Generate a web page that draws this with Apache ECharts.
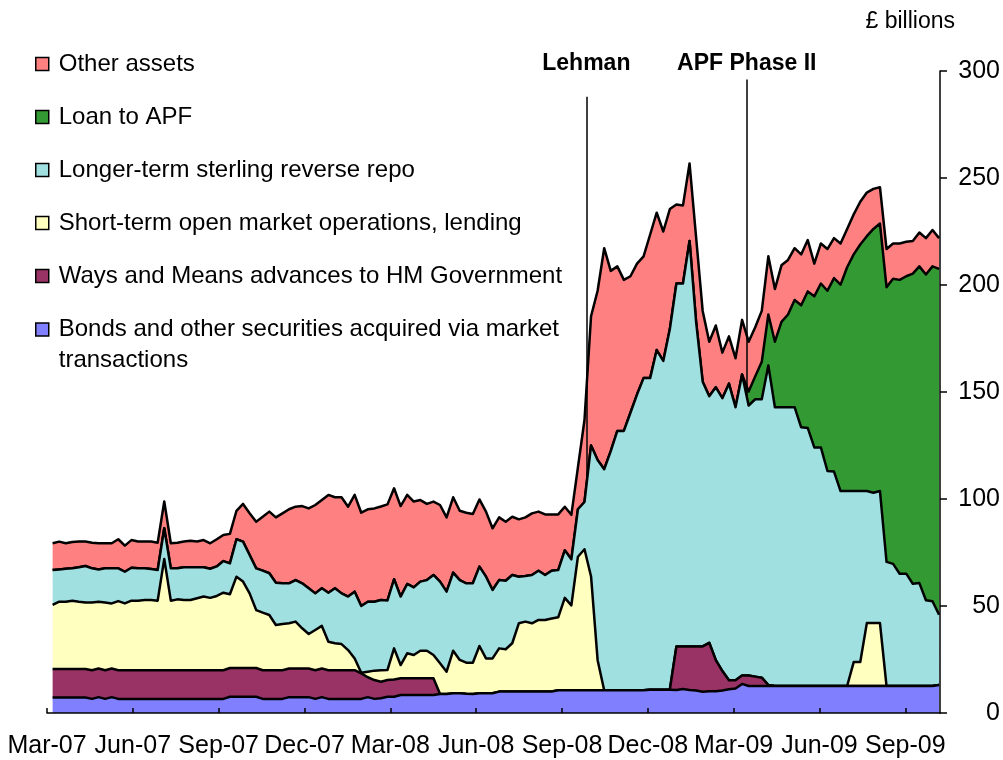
<!DOCTYPE html>
<html>
<head>
<meta charset="utf-8">
<script src="https://cdn.jsdelivr.net/npm/echarts@6/dist/echarts.min.js"></script>
<style>
  html, body { margin: 0; padding: 0; background: #fff; }
  #chart { width: 1003px; height: 760px; }
</style>
</head>
<body>
<div id="chart"></div>
<script>
// weekly Bank Return dates start Wed 7 Mar 2007
const axisStart = '2007-03-01';
const axisEnd = '2009-10-08';
const firstWeek = '2007-03-07';

// quarter ticks: Mar-07 .. Sep-09 span 915 days = 10 x 91.5
const quarterDays = 91.5;
const tickLabels = ['Mar-07', 'Jun-07', 'Sep-07', 'Dec-07', 'Mar-08',
  'Jun-08', 'Sep-08', 'Dec-08', 'Mar-09', 'Jun-09', 'Sep-09'];

const yTicks = [0, 50, 100, 150, 200, 250, 300];

const eventNames = ['Lehman', 'APF Phase II'];
const eventDates = ['2008-09-26', '2009-03-16'];
const eventTops = [288, 296];

// £ billions, one value per week
const bonds = [
  7.2, 7.2, 7.2, 7.2, 7.2, 7.2, 6.6, 7.4, 6.6, 7.4,
  6.6, 6.6, 6.6, 6.6, 6.6, 6.6, 6.6, 6.6, 6.6, 6.6,
  6.6, 6.6, 6.6, 6.6, 6.6, 6.6, 6.6, 7.6, 7.6, 7.6,
  7.6, 7.6, 6.6, 6.6, 6.6, 6.6, 7.4, 7.4, 7.4, 7.4,
  6.6, 7.4, 6.6, 6.6, 6.6, 6.6, 6.6, 6.6, 7.4, 6.6,
  6.9, 7.6, 7.6, 8.4, 8.4, 8.4, 8.4, 8.4, 8.4, 8.9,
  8.9, 9.2, 9.2, 9.0, 8.9, 9.2, 9.2, 9.2, 10.0, 10.0,
  10.0, 10.0, 10.0, 10.0, 10.0, 10.0, 10.0, 10.6, 10.6, 10.6,
  10.6, 10.6, 10.6, 10.6, 10.6, 10.6, 10.6, 10.6, 10.6, 10.6,
  10.6, 10.9, 10.9, 10.9, 10.9, 10.7, 11.2, 10.8, 10.5, 9.9,
  10.2, 10.2, 10.5, 11.1, 11.4, 13.6, 12.6, 12.6, 12.6, 12.6,
  12.6, 12.6, 12.6, 12.6, 12.6, 12.6, 12.6, 12.6, 12.6, 12.6,
  12.6, 12.6, 12.6, 12.6, 12.6, 12.6, 12.6, 12.6, 12.6, 12.6,
  12.6, 12.6, 12.6, 12.6, 12.6, 13.1
];

const waysMeans = [
  13.4, 13.4, 13.4, 13.4, 13.4, 13.4, 13.4, 13.4, 13.4, 13.4,
  13.4, 13.4, 13.4, 13.4, 13.4, 13.4, 13.4, 13.4, 13.4, 13.4,
  13.4, 13.4, 13.4, 13.4, 13.4, 13.4, 13.4, 13.4, 13.4, 13.4,
  13.4, 13.4, 13.4, 13.4, 13.4, 13.4, 13.4, 13.4, 13.4, 13.4,
  13.4, 13.4, 13.4, 13.4, 13.4, 13.4, 13.4, 11.9, 9.3, 8.8,
  7.7, 7.8, 8.1, 7.8, 7.8, 7.8, 7.8, 7.8, 7.8, 0,
  0, 0, 0, 0, 0, 0, 0, 0, 0, 0,
  0, 0, 0, 0, 0, 0, 0, 0, 0, 0,
  0, 0, 0, 0, 0, 0, 0, 0, 0, 0,
  0, 0, 0, 0, 0, 20.4, 19.9, 20.3, 20.6, 21.2,
  22.6, 14.5, 9.1, 4.2, 3.9, 3.9, 4.9, 4.4, 3.9, 0.5,
  0, 0, 0, 0, 0, 0, 0, 0, 0, 0,
  0, 0, 0, 0, 0, 0, 0, 0, 0, 0,
  0, 0, 0, 0, 0, 0
];

const shortTermOmo = [
  29.9, 31.4, 31.4, 31.9, 31.4, 31.0, 31.6, 31.2, 31.6, 30.4,
  32.3, 31.2, 32.5, 32.5, 32.8, 32.8, 32.5, 52.0, 32.5, 33.1,
  32.8, 32.8, 33.6, 34.4, 33.8, 34.7, 36.2, 34.5, 42.7, 40.4,
  34.9, 27.1, 26.9, 25.8, 21.1, 21.6, 21.1, 21.9, 18.8, 16.1,
  18.8, 19.9, 13.3, 12.6, 12.2, 9.4, 5.5, 0.3, 2.6, 4.4,
  5.4, 4.7, 14.5, 6.2, 11.7, 10.9, 12.9, 12.9, 10.9, 14.3,
  10.4, 19.9, 15.6, 14.5, 14.6, 22.1, 16.3, 16.3, 20.2, 19.8,
  22.6, 31.9, 32.7, 31.9, 33.5, 33.5, 34.2, 34.1, 43.2, 39.7,
  62.4, 65.9, 53.2, 14.1, 0, 0, 0, 0, 0, 0,
  0, 0, 0, 0, 0, 0, 0, 0, 0, 0,
  0, 0, 0, 0, 0, 0, 0, 0, 0, 0,
  0, 0, 0, 0, 0, 0, 0, 0, 0, 0,
  0, 0, 11.2, 11.2, 29.4, 29.4, 29.4, 0, 0, 0,
  0, 0, 0, 0, 0, 0
];

const longerTermRepo = [
  16.3, 15.1, 15.4, 15.1, 16.1, 17.1, 16.0, 15.1, 16.0, 16.4,
  15.3, 14.8, 15.4, 15.1, 14.8, 14.5, 14.3, 14.3, 15.1, 14.5,
  15.3, 15.3, 14.5, 13.7, 13.6, 13.8, 14.8, 14.4, 17.5, 18.7,
  17.9, 19.5, 19.6, 19.5, 19.8, 19.0, 18.7, 19.4, 21.0, 21.4,
  17.1, 17.6, 22.9, 25.7, 23.7, 25.0, 31.2, 31.2, 32.7, 32.2,
  32.8, 32.5, 32.3, 32.0, 32.4, 31.6, 32.3, 33.0, 37.4, 38.2,
  37.4, 36.5, 37.3, 37.1, 37.1, 37.1, 38.2, 32.0, 31.9, 32.0,
  31.9, 21.8, 21.3, 22.6, 23.0, 21.0, 22.3, 22.1, 22.2, 21.5,
  22.2, 22.1, 61.2, 93.5, 103.3, 111.8, 121.2, 121.2, 129.7, 138.2,
  145.9, 145.6, 158.7, 153.6, 168.5, 169.6, 169.6, 189.5, 151.7, 123.7,
  115.2, 127.5, 127.5, 138.6, 127.6, 140.7, 126.2, 129.6, 130.1, 149.3,
  130.3, 130.3, 130.3, 130.3, 120.9, 120.6, 111.5, 111.5, 100.5, 100.2,
  91.1, 91.1, 79.9, 79.9, 61.7, 60.9, 61.7, 58.0, 57.1, 52.5,
  52.5, 47.8, 48.1, 40.1, 39.6, 32.8
];

const loanToApf = [
  0, 0, 0, 0, 0, 0, 0, 0, 0, 0,
  0, 0, 0, 0, 0, 0, 0, 0, 0, 0,
  0, 0, 0, 0, 0, 0, 0, 0, 0, 0,
  0, 0, 0, 0, 0, 0, 0, 0, 0, 0,
  0, 0, 0, 0, 0, 0, 0, 0, 0, 0,
  0, 0, 0, 0, 0, 0, 0, 0, 0, 0,
  0, 0, 0, 0, 0, 0, 0, 0, 0, 0,
  0, 0, 0, 0, 0, 0, 0, 0, 0, 0,
  0, 0, 0, 0, 0, 0, 0, 0, 0, 0,
  0, 0, 0, 0, 0, 0, 0, 0, 0, 0,
  0, 0, 0, 0, 0, 0, 6.5, 10.7, 17.5, 23.8,
  30.6, 39.9, 43.3, 50.1, 57.0, 63.8, 70.6, 76.6, 84.2, 90.4,
  96.5, 104.6, 110.6, 115.2, 119.1, 123.3, 125.0, 128.4, 133.2, 137.3,
  139.0, 144.9, 148.0, 152.2, 156.5, 161.6
];

const otherAssets = [
  12.5, 13.0, 11.9, 12.3, 12.0, 11.4, 12.0, 12.2, 11.7, 11.7,
  13.6, 12.2, 12.9, 12.5, 12.5, 12.8, 12.8, 12.5, 11.7, 12.0,
  12.0, 12.4, 12.0, 12.7, 11.9, 12.7, 12.2, 13.8, 13.3, 17.6,
  19.5, 21.8, 25.2, 28.8, 30.5, 32.7, 34.6, 34.3, 36.1, 37.3,
  41.3, 41.2, 45.7, 42.5, 44.9, 42.0, 45.2, 43.6, 43.2, 43.6,
  43.7, 44.9, 42.5, 42.3, 41.6, 40.1, 38.1, 35.6, 34.3, 35.8,
  34.7, 35.2, 32.4, 33.0, 32.4, 31.4, 30.4, 28.8, 29.3, 27.6,
  27.2, 26.8, 27.4, 28.8, 27.6, 28.3, 26.3, 26.0, 20.4, 20.8,
  19.6, 38.3, 60.4, 79.1, 103.3, 84.2, 76.9, 70.6, 63.8, 61.2,
  56.9, 67.1, 64.2, 60.5, 56.1, 36.9, 36.5, 36.2, 39.5, 33.1,
  25.5, 28.9, 21.3, 22.1, 22.9, 25.5, 23.3, 23.0, 23.8, 27.2,
  24.6, 26.4, 25.5, 24.2, 23.8, 24.0, 15.3, 18.7, 19.5, 18.7,
  19.2, 17.9, 18.7, 20.0, 20.4, 18.7, 17.0, 17.8, 16.5, 17.0,
  16.1, 15.3, 15.8, 17.0, 17.0, 14.4
];

function parts(s) {
  return s.split('-').map(Number);
}
function toTime(s) {
  const p = parts(s);
  return new Date(p[0], p[1] - 1, p[2]).getTime();
}
function dayOf(s) {
  const p = parts(s);
  const q = parts(axisStart);
  return Math.round((Date.UTC(p[0], p[1] - 1, p[2]) - Date.UTC(q[0], q[1] - 1, q[2])) / 86400000);
}

const w0 = parts(firstWeek);
const weeks = bonds.map(function (v, i) {
  return new Date(w0[0], w0[1] - 1, w0[2] + 7 * i).getTime();
});

const fontFamily = '"Liberation Sans", Arial, sans-serif';

function pairs(values) {
  return values.map(function (v, i) { return [weeks[i], v]; });
}

function layer(name, values, fill, z) {
  return {
    name: name,
    type: 'line',
    stack: 'total',
    xAxisIndex: 0,
    data: pairs(values),
    symbol: 'none',
    z: z,
    color: fill,
    itemStyle: { color: fill },
    lineStyle: { color: '#000', width: 2.5, join: 'round' },
    areaStyle: { color: fill, opacity: 1 },
    emphasis: { disabled: true }
  };
}

const chart = echarts.init(document.getElementById('chart'));

const option = {
  animation: false,
  textStyle: { fontFamily: fontFamily },
  grid: { left: 47, right: 63, top: 71, bottom: 47, outerBoundsMode: 'none' },
  legend: [
    {
      orient: 'vertical',
      left: 35,
      top: 49,
      padding: 0,
      itemGap: 23,
      itemWidth: 13,
      itemHeight: 13,
      icon: 'rect',
      selectedMode: false,
      itemStyle: { borderColor: '#000', borderWidth: 1.5 },
      textStyle: { fontSize: 24, color: '#000', lineHeight: 30, padding: [0, 0, 0, 5], fontFamily: fontFamily },
      data: ['Other assets', 'Loan to APF', 'Longer-term sterling reverse repo',
        'Short-term open market operations, lending', 'Ways and Means advances to HM Government']
    },
    {
      orient: 'vertical',
      left: 35,
      top: 283,
      padding: 0,
      itemWidth: 13,
      itemHeight: 13,
      icon: 'rect',
      selectedMode: false,
      itemStyle: { borderColor: '#000', borderWidth: 1.5 },
      textStyle: { fontSize: 24, color: '#000', lineHeight: 31, padding: [0, 0, 0, 5], fontFamily: fontFamily },
      // blank first line keeps the square level with the first text line
      formatter: function () {
        return '\nBonds and other securities acquired via market\ntransactions';
      },
      data: ['Bonds and other securities acquired via market transactions']
    }
  ],
  xAxis: [
    {
      type: 'time',
      min: toTime(axisStart),
      max: toTime(axisEnd),
      show: false
    },
    {
      type: 'value',
      position: 'bottom',
      min: 0,
      max: dayOf(axisEnd),
      interval: quarterDays,
      z: 10,
      axisLine: { onZero: false, lineStyle: { color: '#000', width: 1.5 } },
      axisTick: { inside: true, length: 5, lineStyle: { color: '#000', width: 1.5 } },
      axisLabel: {
        fontSize: 25,
        color: '#000',
        margin: 21,
        showMaxLabel: false,
        fontFamily: fontFamily,
        formatter: function (value) {
          const k = Math.round(value / quarterDays);
          if (Math.abs(value - k * quarterDays) > 0.5 || k >= tickLabels.length) return '';
          return tickLabels[k];
        }
      },
      splitLine: { show: false }
    }
  ],
  yAxis: {
    type: 'value',
    position: 'right',
    min: yTicks[0],
    max: yTicks[yTicks.length - 1],
    interval: 50,
    z: 10,
    name: '£ billions',
    nameLocation: 'end',
    nameGap: 38,
    nameTextStyle: { fontSize: 23, color: '#000', align: 'right', padding: [0, -15, 0, 0], fontFamily: fontFamily },
    axisLine: { show: true, onZero: false, lineStyle: { color: '#000', width: 1.5 } },
    axisTick: { show: true, inside: false, length: 7, lineStyle: { color: '#000', width: 1.5 } },
    axisLabel: { fontSize: 25, color: '#000', align: 'right', margin: 60, fontFamily: fontFamily },
    splitLine: { show: false }
  },
  series: [
    layer('Bonds and other securities acquired via market transactions', bonds, '#8080FF', 8),
    layer('Ways and Means advances to HM Government', waysMeans, '#993366', 7),
    layer('Short-term open market operations, lending', shortTermOmo, '#FFFFC0', 6),
    layer('Longer-term sterling reverse repo', longerTermRepo, '#A0E0E0', 5),
    layer('Loan to APF', loanToApf, '#339933', 4),
    layer('Other assets', otherAssets, '#FF8080', 3),
    {
      name: 'events',
      type: 'line',
      xAxisIndex: 0,
      data: [],
      z: 9,
      markLine: {
        silent: true,
        symbol: 'none',
        animation: false,
        lineStyle: { color: '#000', width: 1.5, type: 'solid' },
        label: {
          show: true,
          position: 'end',
          formatter: '{b}',
          fontSize: 23,
          fontWeight: 'bold',
          color: '#000',
          fontFamily: fontFamily
        },
        data: eventNames.map(function (n, i) {
          return [
            { name: n, coord: [toTime(eventDates[i]), 0], label: { distance: i === 0 ? 22 : 4 } },
            { coord: [toTime(eventDates[i]), eventTops[i]] }
          ];
        })
      }
    }
  ]
};

chart.setOption(option);
window.addEventListener('resize', function () {
  chart.resize();
});
</script>
</body>
</html>
